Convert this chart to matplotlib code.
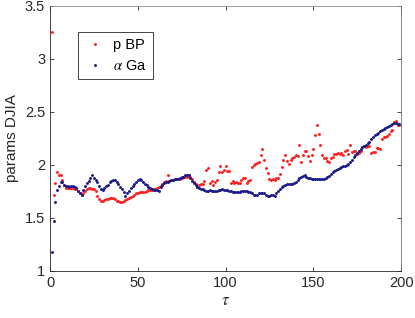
import numpy as np
import matplotlib
matplotlib.use('Agg')
import matplotlib.pyplot as plt
from matplotlib.ticker import FormatStrFormatter

# значения (tau = 1..199)
tau = np.arange(1, 200)

alpha_ga = [
    1.18, 1.47, 1.65, 1.76, 1.80, 1.84, 1.84, 1.81, 1.80, 1.80,
    1.79, 1.80, 1.80, 1.79, 1.78, 1.75, 1.73, 1.72, 1.76, 1.80,
    1.83, 1.85, 1.88, 1.90, 1.88, 1.86, 1.84, 1.80, 1.77, 1.76,
    1.78, 1.80, 1.81, 1.84, 1.85, 1.86, 1.86, 1.84, 1.82, 1.79,
    1.77, 1.74, 1.71, 1.73, 1.75, 1.78, 1.80, 1.82, 1.84, 1.86,
    1.87, 1.86, 1.84, 1.82, 1.81, 1.79, 1.78, 1.77, 1.76, 1.76,
    1.76, 1.75, 1.79, 1.81, 1.83, 1.84, 1.84, 1.85, 1.86, 1.86,
    1.87, 1.87, 1.87, 1.88, 1.89, 1.89, 1.90, 1.90, 1.90, 1.88,
    1.85, 1.83, 1.81, 1.79, 1.78, 1.77, 1.77, 1.76, 1.75, 1.75,
    1.76, 1.75, 1.75, 1.75, 1.75, 1.76, 1.76, 1.77, 1.76, 1.76,
    1.76, 1.75, 1.75, 1.74, 1.74, 1.74, 1.74, 1.745, 1.75, 1.75,
    1.75, 1.75, 1.74, 1.74, 1.73, 1.72, 1.72, 1.72, 1.73, 1.73,
    1.73, 1.73, 1.72, 1.71, 1.705, 1.72, 1.72, 1.71, 1.73, 1.75,
    1.77, 1.79, 1.80, 1.81, 1.815, 1.815, 1.82, 1.82, 1.83, 1.84,
    1.86, 1.875, 1.89, 1.895, 1.90, 1.89, 1.88, 1.875, 1.87, 1.87,
    1.865, 1.865, 1.865, 1.865, 1.865, 1.87, 1.875, 1.885, 1.895, 1.91,
    1.93, 1.94, 1.95, 1.96, 1.97, 1.98, 1.985, 1.99, 2.00, 2.01,
    2.03, 2.05, 2.07, 2.09, 2.11, 2.13, 2.15, 2.165, 2.18, 2.19,
    2.21, 2.22, 2.24, 2.26, 2.28, 2.29, 2.30, 2.32, 2.33, 2.34,
    2.35, 2.36, 2.37, 2.38, 2.385, 2.39, 2.39, 2.385, 2.385,
]

p_bp = [
    3.25, 1.72, 1.83, 1.93, 1.90, 1.90, 1.86, 1.81, 1.78, 1.78,
    1.78, 1.78, 1.78, 1.77, 1.77, 1.75, 1.73, 1.72, 1.73, 1.75,
    1.77, 1.78, 1.78, 1.77, 1.77, 1.75, 1.71, 1.68, 1.66, 1.66,
    1.67, 1.68, 1.68, 1.69, 1.69, 1.69, 1.68, 1.66, 1.66, 1.65,
    1.65, 1.66, 1.67, 1.68, 1.69, 1.70, 1.71, 1.72, 1.73, 1.73,
    1.74, 1.74, 1.74, 1.745, 1.75, 1.76, 1.76, 1.76, 1.77, 1.77,
    1.78, 1.79, 1.80, 1.82, 1.84, 1.85, 1.905, 1.85, 1.86, 1.86,
    1.87, 1.87, 1.87, 1.87, 1.88, 1.89, 1.89, 1.89, 1.90, 1.89,
    1.87, 1.84, 1.82, 1.79, 1.81, 1.82, 1.82, 1.85, 1.95, 1.97,
    1.83, 1.85, 1.81, 1.84, 1.86, 1.93, 1.985, 1.93, 1.95, 1.985,
    1.94, 1.94, 1.83, 1.85, 1.83, 1.84, 1.83, 1.83, 1.86, 1.88,
    1.88, 1.83, 1.85, 1.86, 1.98, 2.00, 2.01, 2.02, 2.03, 2.09,
    2.15, 2.05, 1.97, 1.92, 1.865, 1.86, 1.87, 1.86, 1.875, 1.88,
    1.91, 1.98, 2.05, 2.09, 2.04, 2.01, 2.05, 2.06, 2.07, 2.09,
    2.08, 2.19, 2.03, 2.09, 2.13, 2.13, 2.08, 2.04, 2.09, 2.15,
    2.28, 2.38, 2.29, 2.19, 2.09, 2.06, 2.06, 2.04, 2.03, 2.06,
    2.07, 2.10, 2.10, 2.11, 2.10, 2.11, 2.09, 2.13, 2.14, 2.10,
    2.19, 2.12, 2.13, 2.13, 2.10, 2.11, 2.13, 2.17, 2.18, 2.17,
    2.18, 2.18, 2.11, 2.12, 2.12, 2.16, 2.16, 2.15, 2.24, 2.26,
    2.26, 2.27, 2.29, 2.32, 2.33, 2.40, 2.41, 2.38, 2.38,
]

plt.rcParams['font.family'] = ['Liberation Sans', 'DejaVu Sans']
plt.rcParams['mathtext.fontset'] = 'stix'

fig = plt.figure(figsize=(4.15, 3.18), dpi=100)
ax = fig.add_axes([0.1205, 0.148, 0.846, 0.834])

ax.plot(tau, p_bp, '.', color='#ff2020', markersize=2.2, label='p BP')
ax.plot(tau, alpha_ga, '.', color='#1a1a8c', markersize=2.2, label=r'$\alpha$ Ga')

ax.set_xlim(0, 200)
ax.set_ylim(1, 3.5)
ax.set_xticks([0, 50, 100, 150, 200])
ax.set_yticks([1, 1.5, 2, 2.5, 3, 3.5])
ax.yaxis.set_major_formatter(FormatStrFormatter('%g'))

axis_color = '#262626'
for s in ax.spines.values():
    s.set_color(axis_color)
    s.set_linewidth(0.6)
ax.spines['top'].set_color('#8c8c8c')
ax.spines['right'].set_color('#6e6e6e')
ax.tick_params(direction='in', length=3, width=0.6, colors=axis_color,
               labelsize=10.5, top=True, right=True)

ax.set_xlabel(r'$\tau$', fontsize=12, color=axis_color, labelpad=2)
ax.set_ylabel('params DJIA', fontsize=11, color=axis_color, labelpad=4)

leg = ax.legend(loc='upper left', bbox_to_anchor=(0.08, 0.9), borderaxespad=0,
                fontsize=10.5, markerscale=1.0, handlelength=1.5,
                labelspacing=0.5, borderpad=0.4, handletextpad=0.5,
                fancybox=False, framealpha=1)
leg.get_frame().set_edgecolor(axis_color)
leg.get_frame().set_linewidth(0.6)

fig.savefig('out.png', dpi=100)
